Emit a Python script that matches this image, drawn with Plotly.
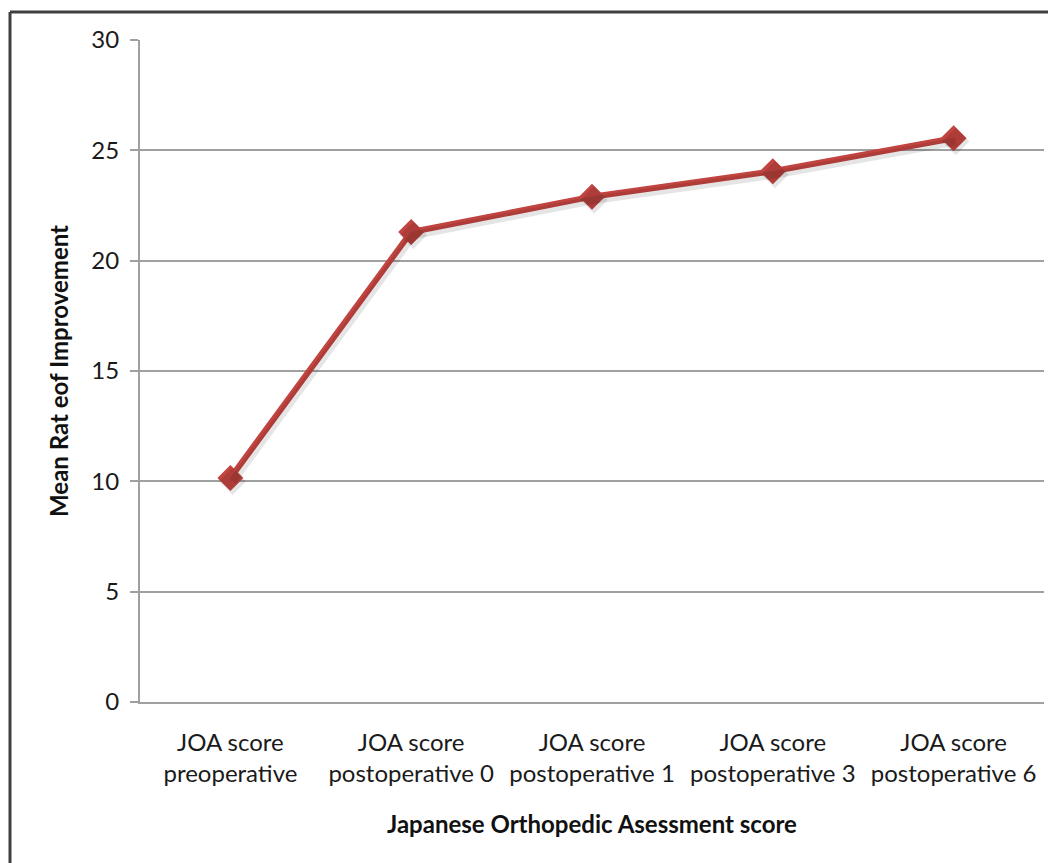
import plotly.graph_objects as go

categories = ["JOA score<br>preoperative", "JOA score<br>postoperative 0", "JOA score<br>postoperative 1",
              "JOA score<br>postoperative 3", "JOA score<br>postoperative 6"]
values = [10.15, 21.3, 22.9, 24.05, 25.55]
y_ticks = [0, 5, 10, 15, 20, 25, 30]

# page body has an 8px default margin; figure coordinates are screen minus 8
OFF = 8
W, H = 1056 - OFF, 863 - OFF
L, T = 140 - OFF, 40 - OFF
R = W - (1044 - OFF)
B = H - (702 - OFF)
pw, ph = W - L - R, H - T - B

def px(x):
    return (x - OFF - L) / pw

def py(y):
    return (H - B - (y - OFF)) / ph

font = "Lato, Open Sans, sans-serif"

fig = go.Figure()
# soft shadow
fig.add_trace(go.Scatter(
    x=categories, y=values, mode="lines+markers",
    line=dict(color="rgba(0,0,0,0.10)", width=8),
    marker=dict(symbol="diamond", size=21, color="rgba(0,0,0,0.10)"),
    hoverinfo="skip", showlegend=False, xaxis="x2", yaxis="y2"))
fig.add_trace(go.Scatter(
    x=categories, y=values, mode="lines+markers",
    line=dict(color="#C24440", width=6),
    marker=dict(symbol="diamond", size=20, color="#C24440"),
    showlegend=False))

fig.update_layout(
    width=W, height=H,
    margin=dict(l=L, r=R, t=T, b=B),
    paper_bgcolor="white", plot_bgcolor="white",
    font=dict(family=font, color="#111"),
    xaxis=dict(type="category", range=[-0.5, 4.5], showgrid=False,
               showline=True, linecolor="#A0A0A0", linewidth=2,
               ticks="", ticklabelstandoff=18, tickfont=dict(size=24, color="#1a1a1a"),
               title=dict(text="<b>Japanese Orthopedic Asessment score</b>",
                          font=dict(size=24, color="#111"), standoff=30)),
    yaxis=dict(range=[0, 30], tickvals=y_ticks, showgrid=True, gridcolor="#A0A0A0", gridwidth=2,
               showline=True, linecolor="#A0A0A0", linewidth=2, zeroline=False,
               ticks="outside", ticklen=8, tickcolor="#A0A0A0", tickwidth=2,
               ticklabelstandoff=6,
               tickfont=dict(size=24, color="#1a1a1a"),
               title=dict(text="<b>Mean Rat eof Improvement</b>", font=dict(size=24, color="#111"),
                          standoff=16)),
    xaxis2=dict(type="category", range=[-0.5 - 0.012, 4.5 - 0.012], overlaying="x", visible=False),
    yaxis2=dict(range=[0 + 0.15, 30 + 0.15], overlaying="y", visible=False),
    shapes=[
        dict(type="line", xref="paper", yref="paper", x0=px(10), x1=px(10), y0=py(12), y1=py(870),
             line=dict(color="#404040", width=3)),
        dict(type="line", xref="paper", yref="paper", x0=px(10), x1=px(1060), y0=py(12), y1=py(12),
             line=dict(color="#404040", width=3)),
    ],
)

fig.write_html("out.html")
